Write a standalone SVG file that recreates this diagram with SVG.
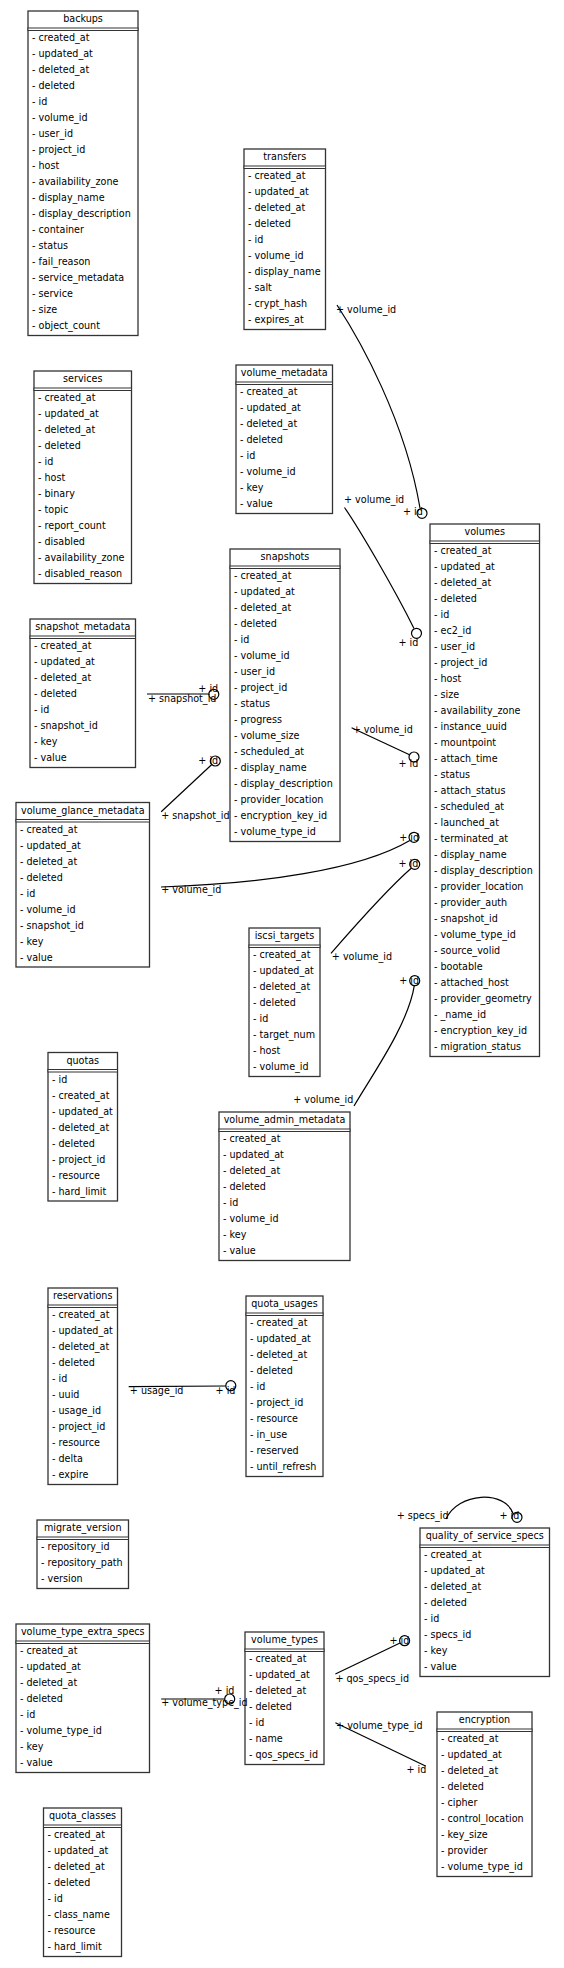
<svg xmlns="http://www.w3.org/2000/svg" width="564" height="1968" viewBox="0 0 564 1968">
<style>
text{font-family:"DejaVu Sans","Liberation Sans",sans-serif;font-size:9.6px;fill:#000}
.h{text-anchor:middle}
.box{fill:#fff;stroke:#333;stroke-width:1.3}
.band{fill:#fff;stroke:#333;stroke-width:1}
.e{fill:none;stroke:#000;stroke-width:1.2}
.c{fill:none;stroke:#000;stroke-width:1.2}
</style>
<rect width="564" height="1968" fill="#fff"/>
<g id="backups">
<rect class="box" x="28" y="11" width="110" height="324.5"/>
<text class="h" x="83" y="22">backups</text>
<rect class="band" x="28" y="28" width="110" height="2.5"/>
<text x="32" y="41">- created_at</text><text x="32" y="57">- updated_at</text><text x="32" y="73">- deleted_at</text><text x="32" y="89">- deleted</text><text x="32" y="105">- id</text><text x="32" y="121">- volume_id</text><text x="32" y="137">- user_id</text><text x="32" y="153">- project_id</text><text x="32" y="169">- host</text><text x="32" y="185">- availability_zone</text><text x="32" y="201">- display_name</text><text x="32" y="217">- display_description</text><text x="32" y="233">- container</text><text x="32" y="249">- status</text><text x="32" y="265">- fail_reason</text><text x="32" y="281">- service_metadata</text><text x="32" y="297">- service</text><text x="32" y="313">- size</text><text x="32" y="329">- object_count</text>
</g>
<g id="transfers">
<rect class="box" x="244" y="149" width="81.5" height="180.5"/>
<text class="h" x="284.75" y="160">transfers</text>
<rect class="band" x="244" y="166" width="81.5" height="2.5"/>
<text x="248" y="179">- created_at</text><text x="248" y="195">- updated_at</text><text x="248" y="211">- deleted_at</text><text x="248" y="227">- deleted</text><text x="248" y="243">- id</text><text x="248" y="259">- volume_id</text><text x="248" y="275">- display_name</text><text x="248" y="291">- salt</text><text x="248" y="307">- crypt_hash</text><text x="248" y="323">- expires_at</text>
</g>
<g id="services">
<rect class="box" x="34" y="371" width="97.5" height="212.5"/>
<text class="h" x="82.75" y="382">services</text>
<rect class="band" x="34" y="388" width="97.5" height="2.5"/>
<text x="38" y="401">- created_at</text><text x="38" y="417">- updated_at</text><text x="38" y="433">- deleted_at</text><text x="38" y="449">- deleted</text><text x="38" y="465">- id</text><text x="38" y="481">- host</text><text x="38" y="497">- binary</text><text x="38" y="513">- topic</text><text x="38" y="529">- report_count</text><text x="38" y="545">- disabled</text><text x="38" y="561">- availability_zone</text><text x="38" y="577">- disabled_reason</text>
</g>
<g id="volume_metadata">
<rect class="box" x="236" y="365" width="96.5" height="148.5"/>
<text class="h" x="284.25" y="376">volume_metadata</text>
<rect class="band" x="236" y="382" width="96.5" height="2.5"/>
<text x="240" y="395">- created_at</text><text x="240" y="411">- updated_at</text><text x="240" y="427">- deleted_at</text><text x="240" y="443">- deleted</text><text x="240" y="459">- id</text><text x="240" y="475">- volume_id</text><text x="240" y="491">- key</text><text x="240" y="507">- value</text>
</g>
<g id="volumes">
<rect class="box" x="430" y="524" width="109.5" height="532.5"/>
<text class="h" x="484.75" y="535">volumes</text>
<rect class="band" x="430" y="541" width="109.5" height="2.5"/>
<text x="434" y="554">- created_at</text><text x="434" y="570">- updated_at</text><text x="434" y="586">- deleted_at</text><text x="434" y="602">- deleted</text><text x="434" y="618">- id</text><text x="434" y="634">- ec2_id</text><text x="434" y="650">- user_id</text><text x="434" y="666">- project_id</text><text x="434" y="682">- host</text><text x="434" y="698">- size</text><text x="434" y="714">- availability_zone</text><text x="434" y="730">- instance_uuid</text><text x="434" y="746">- mountpoint</text><text x="434" y="762">- attach_time</text><text x="434" y="778">- status</text><text x="434" y="794">- attach_status</text><text x="434" y="810">- scheduled_at</text><text x="434" y="826">- launched_at</text><text x="434" y="842">- terminated_at</text><text x="434" y="858">- display_name</text><text x="434" y="874">- display_description</text><text x="434" y="890">- provider_location</text><text x="434" y="906">- provider_auth</text><text x="434" y="922">- snapshot_id</text><text x="434" y="938">- volume_type_id</text><text x="434" y="954">- source_volid</text><text x="434" y="970">- bootable</text><text x="434" y="986">- attached_host</text><text x="434" y="1002">- provider_geometry</text><text x="434" y="1018">- _name_id</text><text x="434" y="1034">- encryption_key_id</text><text x="434" y="1050">- migration_status</text>
</g>
<g id="snapshots">
<rect class="box" x="230" y="549" width="110" height="292.5"/>
<text class="h" x="285" y="560">snapshots</text>
<rect class="band" x="230" y="566" width="110" height="2.5"/>
<text x="234" y="579">- created_at</text><text x="234" y="595">- updated_at</text><text x="234" y="611">- deleted_at</text><text x="234" y="627">- deleted</text><text x="234" y="643">- id</text><text x="234" y="659">- volume_id</text><text x="234" y="675">- user_id</text><text x="234" y="691">- project_id</text><text x="234" y="707">- status</text><text x="234" y="723">- progress</text><text x="234" y="739">- volume_size</text><text x="234" y="755">- scheduled_at</text><text x="234" y="771">- display_name</text><text x="234" y="787">- display_description</text><text x="234" y="803">- provider_location</text><text x="234" y="819">- encryption_key_id</text><text x="234" y="835">- volume_type_id</text>
</g>
<g id="snapshot_metadata">
<rect class="box" x="30" y="619" width="105.5" height="148.5"/>
<text class="h" x="82.75" y="630">snapshot_metadata</text>
<rect class="band" x="30" y="636" width="105.5" height="2.5"/>
<text x="34" y="649">- created_at</text><text x="34" y="665">- updated_at</text><text x="34" y="681">- deleted_at</text><text x="34" y="697">- deleted</text><text x="34" y="713">- id</text><text x="34" y="729">- snapshot_id</text><text x="34" y="745">- key</text><text x="34" y="761">- value</text>
</g>
<g id="volume_glance_metadata">
<rect class="box" x="16" y="802.5" width="133.5" height="164.5"/>
<text class="h" x="82.75" y="813.5">volume_glance_metadata</text>
<rect class="band" x="16" y="819.5" width="133.5" height="2.5"/>
<text x="20" y="832.5">- created_at</text><text x="20" y="848.5">- updated_at</text><text x="20" y="864.5">- deleted_at</text><text x="20" y="880.5">- deleted</text><text x="20" y="896.5">- id</text><text x="20" y="912.5">- volume_id</text><text x="20" y="928.5">- snapshot_id</text><text x="20" y="944.5">- key</text><text x="20" y="960.5">- value</text>
</g>
<g id="iscsi_targets">
<rect class="box" x="249" y="928" width="71" height="148.5"/>
<text class="h" x="284.5" y="939">iscsi_targets</text>
<rect class="band" x="249" y="945" width="71" height="2.5"/>
<text x="253" y="958">- created_at</text><text x="253" y="974">- updated_at</text><text x="253" y="990">- deleted_at</text><text x="253" y="1006">- deleted</text><text x="253" y="1022">- id</text><text x="253" y="1038">- target_num</text><text x="253" y="1054">- host</text><text x="253" y="1070">- volume_id</text>
</g>
<g id="quotas">
<rect class="box" x="48" y="1052.5" width="69.5" height="148.5"/>
<text class="h" x="82.75" y="1063.5">quotas</text>
<rect class="band" x="48" y="1069.5" width="69.5" height="2.5"/>
<text x="52" y="1082.5">- id</text><text x="52" y="1098.5">- created_at</text><text x="52" y="1114.5">- updated_at</text><text x="52" y="1130.5">- deleted_at</text><text x="52" y="1146.5">- deleted</text><text x="52" y="1162.5">- project_id</text><text x="52" y="1178.5">- resource</text><text x="52" y="1194.5">- hard_limit</text>
</g>
<g id="volume_admin_metadata">
<rect class="box" x="219" y="1112" width="131" height="148.5"/>
<text class="h" x="284.5" y="1123">volume_admin_metadata</text>
<rect class="band" x="219" y="1129" width="131" height="2.5"/>
<text x="223" y="1142">- created_at</text><text x="223" y="1158">- updated_at</text><text x="223" y="1174">- deleted_at</text><text x="223" y="1190">- deleted</text><text x="223" y="1206">- id</text><text x="223" y="1222">- volume_id</text><text x="223" y="1238">- key</text><text x="223" y="1254">- value</text>
</g>
<g id="reservations">
<rect class="box" x="48" y="1288" width="69.5" height="196.5"/>
<text class="h" x="82.75" y="1299">reservations</text>
<rect class="band" x="48" y="1305" width="69.5" height="2.5"/>
<text x="52" y="1318">- created_at</text><text x="52" y="1334">- updated_at</text><text x="52" y="1350">- deleted_at</text><text x="52" y="1366">- deleted</text><text x="52" y="1382">- id</text><text x="52" y="1398">- uuid</text><text x="52" y="1414">- usage_id</text><text x="52" y="1430">- project_id</text><text x="52" y="1446">- resource</text><text x="52" y="1462">- delta</text><text x="52" y="1478">- expire</text>
</g>
<g id="quota_usages">
<rect class="box" x="246" y="1296" width="77" height="180.5"/>
<text class="h" x="284.5" y="1307">quota_usages</text>
<rect class="band" x="246" y="1313" width="77" height="2.5"/>
<text x="250" y="1326">- created_at</text><text x="250" y="1342">- updated_at</text><text x="250" y="1358">- deleted_at</text><text x="250" y="1374">- deleted</text><text x="250" y="1390">- id</text><text x="250" y="1406">- project_id</text><text x="250" y="1422">- resource</text><text x="250" y="1438">- in_use</text><text x="250" y="1454">- reserved</text><text x="250" y="1470">- until_refresh</text>
</g>
<g id="migrate_version">
<rect class="box" x="37" y="1520" width="91.5" height="68.5"/>
<text class="h" x="82.75" y="1531">migrate_version</text>
<rect class="band" x="37" y="1537" width="91.5" height="2.5"/>
<text x="41" y="1550">- repository_id</text><text x="41" y="1566">- repository_path</text><text x="41" y="1582">- version</text>
</g>
<g id="quality_of_service_specs">
<rect class="box" x="420" y="1528" width="129.5" height="148.5"/>
<text class="h" x="484.75" y="1539">quality_of_service_specs</text>
<rect class="band" x="420" y="1545" width="129.5" height="2.5"/>
<text x="424" y="1558">- created_at</text><text x="424" y="1574">- updated_at</text><text x="424" y="1590">- deleted_at</text><text x="424" y="1606">- deleted</text><text x="424" y="1622">- id</text><text x="424" y="1638">- specs_id</text><text x="424" y="1654">- key</text><text x="424" y="1670">- value</text>
</g>
<g id="volume_type_extra_specs">
<rect class="box" x="16" y="1624" width="133.5" height="148.5"/>
<text class="h" x="82.75" y="1635">volume_type_extra_specs</text>
<rect class="band" x="16" y="1641" width="133.5" height="2.5"/>
<text x="20" y="1654">- created_at</text><text x="20" y="1670">- updated_at</text><text x="20" y="1686">- deleted_at</text><text x="20" y="1702">- deleted</text><text x="20" y="1718">- id</text><text x="20" y="1734">- volume_type_id</text><text x="20" y="1750">- key</text><text x="20" y="1766">- value</text>
</g>
<g id="volume_types">
<rect class="box" x="245" y="1632" width="79" height="132.5"/>
<text class="h" x="284.5" y="1643">volume_types</text>
<rect class="band" x="245" y="1649" width="79" height="2.5"/>
<text x="249" y="1662">- created_at</text><text x="249" y="1678">- updated_at</text><text x="249" y="1694">- deleted_at</text><text x="249" y="1710">- deleted</text><text x="249" y="1726">- id</text><text x="249" y="1742">- name</text><text x="249" y="1758">- qos_specs_id</text>
</g>
<g id="encryption">
<rect class="box" x="437" y="1712" width="95" height="164.5"/>
<text class="h" x="484.5" y="1723">encryption</text>
<rect class="band" x="437" y="1729" width="95" height="2.5"/>
<text x="441" y="1742">- created_at</text><text x="441" y="1758">- updated_at</text><text x="441" y="1774">- deleted_at</text><text x="441" y="1790">- deleted</text><text x="441" y="1806">- cipher</text><text x="441" y="1822">- control_location</text><text x="441" y="1838">- key_size</text><text x="441" y="1854">- provider</text><text x="441" y="1870">- volume_type_id</text>
</g>
<g id="quota_classes">
<rect class="box" x="43.5" y="1808" width="78" height="148.5"/>
<text class="h" x="82.5" y="1819">quota_classes</text>
<rect class="band" x="43.5" y="1825" width="78" height="2.5"/>
<text x="47.5" y="1838">- created_at</text><text x="47.5" y="1854">- updated_at</text><text x="47.5" y="1870">- deleted_at</text><text x="47.5" y="1886">- deleted</text><text x="47.5" y="1902">- id</text><text x="47.5" y="1918">- class_name</text><text x="47.5" y="1934">- resource</text><text x="47.5" y="1950">- hard_limit</text>
</g>
<g id="connectors">
<path class="e" d="M337,305 C360,340 405,420 420,508"/>
<circle class="c" cx="422" cy="513.3" r="5"/>
<text x="336" y="312.5">+ volume_id</text>
<text x="403" y="514.5">+ id</text>

<path class="e" d="M344.5,507.5 C360,530 395,590 414,628.5"/>
<circle class="c" cx="416.5" cy="633.3" r="5"/>
<text x="344" y="503.3">+ volume_id</text>
<text x="398.5" y="645.7">+ id</text>

<path class="e" d="M147,694 L208.8,694"/>
<circle class="c" cx="213.8" cy="694.3" r="5"/>
<text x="198.3" y="691.5">+ id</text>
<text x="148" y="701.5">+ snapshot_id</text>

<path class="e" d="M161.2,811.7 L211.8,764.5"/>
<circle class="c" cx="215.3" cy="761" r="5"/>
<text x="198.3" y="764.3">+ id</text>
<text x="161.2" y="819.3">+ snapshot_id</text>

<path class="e" d="M351.6,727.7 L409.5,754.8"/>
<circle class="c" cx="414" cy="757" r="5"/>
<text x="352.7" y="733.3">+ volume_id</text>
<text x="398.5" y="766.7">+ id</text>

<path class="e" d="M161,887 C260,884 360,870 409.8,840.5"/>
<circle class="c" cx="414" cy="837.3" r="5"/>
<text x="161.2" y="893.3">+ volume_id</text>
<text x="399.2" y="840.5">+ id</text>

<path class="e" d="M331,953.3 C360,920 392,885 411.5,868"/>
<circle class="c" cx="414.7" cy="864.3" r="5"/>
<text x="331.8" y="960">+ volume_id</text>
<text x="398.5" y="867">+ id</text>

<path class="e" d="M354,1106 C372,1075 408,1025 414.3,985.7"/>
<circle class="c" cx="414.7" cy="980.7" r="5"/>
<text x="293.2" y="1102.7">+ volume_id</text>
<text x="399.2" y="983.5">+ id</text>

<path class="e" d="M128.7,1386.7 L225.8,1386"/>
<circle class="c" cx="230.8" cy="1385.7" r="5"/>
<text x="129.8" y="1394">+ usage_id</text>
<text x="215.6" y="1394">+ id</text>

<path class="e" d="M446,1519 C458,1492 505,1490 513,1513.5"/>
<circle class="c" cx="517" cy="1517.3" r="5"/>
<text x="396.7" y="1519.3">+ specs_id</text>
<text x="499.5" y="1519.3">+ id</text>

<path class="e" d="M335.4,1674 L400,1643"/>
<circle class="c" cx="404.6" cy="1640.7" r="5"/>
<text x="335.4" y="1681.7">+ qos_specs_id</text>
<text x="389.5" y="1644.3">+ id</text>

<path class="e" d="M161.2,1699 L224.7,1699"/>
<circle class="c" cx="229.7" cy="1699" r="5"/>
<text x="214.6" y="1694.3">+ id</text>
<text x="161.2" y="1705.7">+ volume_type_id</text>

<path class="e" d="M335.4,1722.7 L425.5,1766"/>
<text x="336.1" y="1729.3">+ volume_type_id</text>
<text x="406.4" y="1773.3">+ id</text>
</g>
</svg>
